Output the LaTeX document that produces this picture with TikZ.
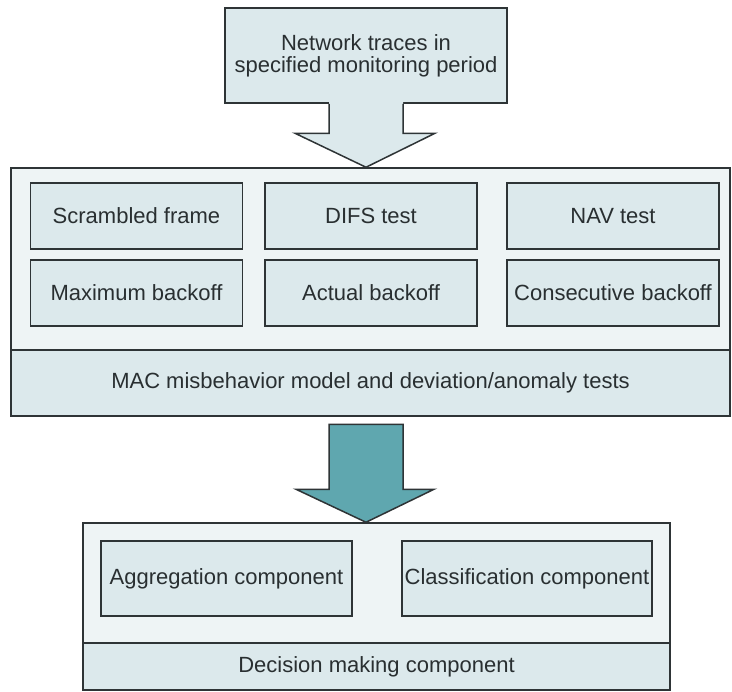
\documentclass[tikz,border=0pt]{standalone}
\usepackage{fontspec}
\setmainfont{Liberation Sans}
\usetikzlibrary{positioning,calc}
\definecolor{ink}{HTML}{2E3436}
\definecolor{boxbg}{HTML}{DCE9EC}
\definecolor{panelbg}{HTML}{EEF4F5}
\definecolor{arrowteal}{HTML}{5FA7AF}

\begin{document}
\begin{tikzpicture}[
  x=0.5pt, y=-0.5pt, font=\fontsize{11}{11}\selectfont, text=ink!90!black,
  blk/.style={draw=ink, fill=boxbg, line width=.75pt, inner sep=0pt, align=center,
              minimum width=#1, minimum height=33pt},
  blk/.default=106pt,
  panel/.style={draw=ink, fill=panelbg, line width=.75pt, inner sep=0pt,
                minimum width=#1},
  arr/.style={draw=ink, line width=.75pt, line join=miter},
]
\useasboundingbox (0,0) rectangle (732,691);

%% ---------------- input ----------------
\node[blk=141pt, minimum height=47.5pt] (trace) at (366,55.5)
  {Network traces in\\specified monitoring period};

%% ---------------- misbehavior tests ----------------
\node[panel=359.5pt, minimum height=124pt] (tests) at (370.5,292) {};
\node[blk=359.5pt] (macm) at (370.5,383)
  {MAC misbehavior model and deviation/anomaly tests};

\node[blk] (scr)  at (136.5,216) {Scrambled frame};
\node[blk] (difs) at (371,216)   {DIFS test};
\node[blk] (nav)  at (613,216)   {NAV test};
\node[blk] (maxb) at (136.5,293) {Maximum backoff};
\node[blk] (actb) at (371,293)   {Actual backoff};
\node[blk] (conb) at (613,293)   {Consecutive backoff};

%% ---------------- decision ----------------
\node[panel=293.5pt, minimum height=83.5pt] (dec) at (376.5,606.5) {};
\node[blk=293.5pt, minimum height=23.5pt] (decm) at (376.5,666.5)
  {Decision making component};
\node[blk=125.5pt, minimum height=37.5pt] (agg) at (226.5,578.5) {Aggregation component};
\node[blk=125pt, minimum height=37.5pt]   (cls) at (527,578.5)   {Classification component};

%% ---------------- block arrows ----------------
\coordinate (tip1) at (trace.south |- tests.north);
\fill[boxbg] ($(trace.south)+(-37,-2)$) -- ($(tip1)+(-37,-34)$) -- ($(tip1)+(-71,-34)$)
  -- (tip1) -- ($(tip1)+(69,-34)$) -- ($(tip1)+(37,-34)$) -- ($(trace.south)+(37,-2)$) -- cycle;
\draw[arr] ($(trace.south)+(-37,0)$) -- ($(tip1)+(-37,-34)$) -- ($(tip1)+(-71,-34)$)
  -- (tip1) -- ($(tip1)+(69,-34)$) -- ($(tip1)+(37,-34)$) -- ($(trace.south)+(37,0)$);

\coordinate (tip2) at (trace.south |- dec.north);
\draw[arr, fill=arrowteal] ($(tip2)+(-37,-98)$) -- ($(tip2)+(-37,-33)$) -- ($(tip2)+(-70,-33)$)
  -- (tip2) -- ($(tip2)+(68,-33)$) -- ($(tip2)+(37,-33)$) -- ($(tip2)+(37,-98)$) -- cycle;

\end{tikzpicture}
\end{document}
